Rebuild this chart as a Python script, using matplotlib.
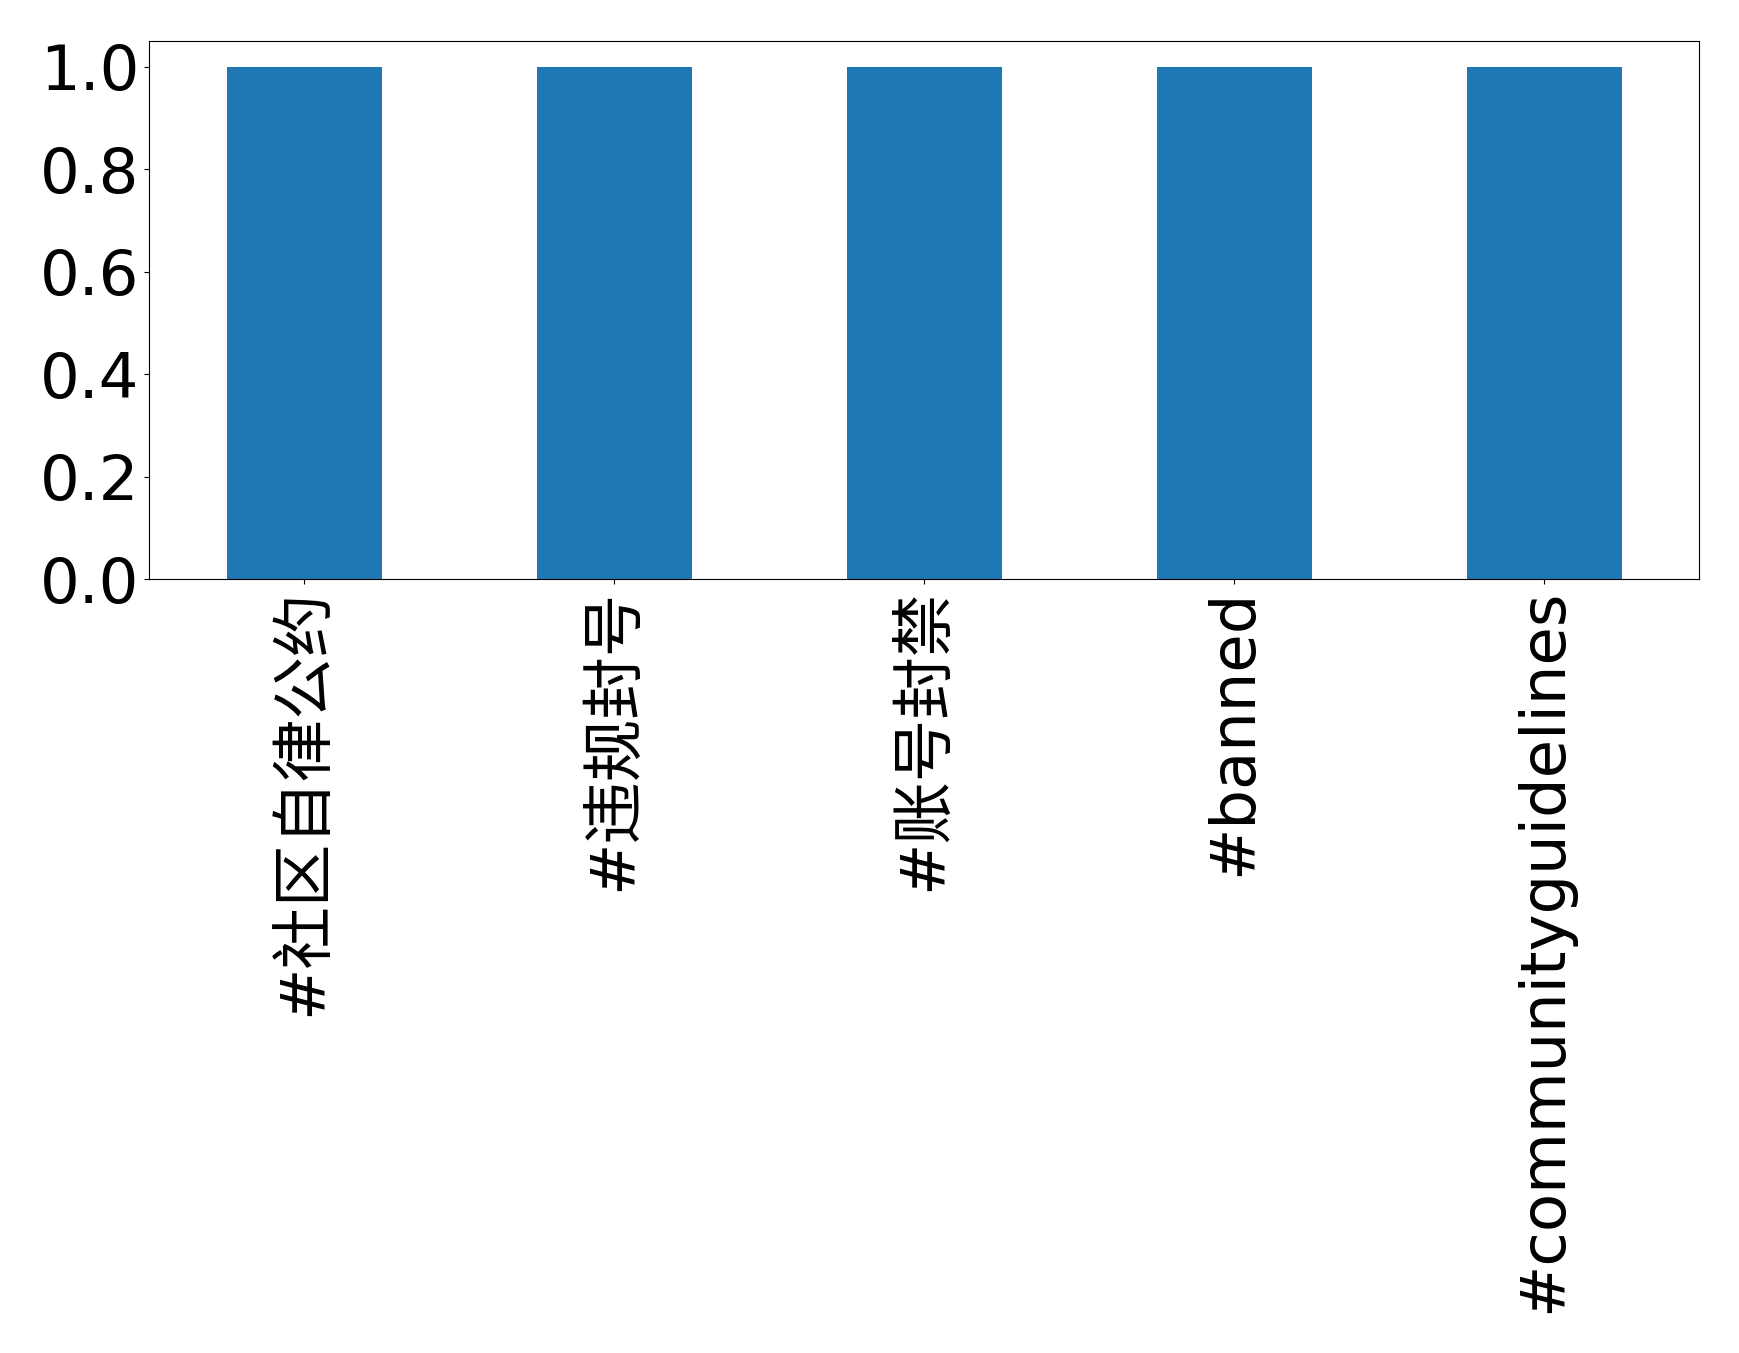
import matplotlib
matplotlib.use("Agg")
import matplotlib.pyplot as plt

categories = ["#社区自律公约", "#违规封号", "#账号封禁", "#banned", "#communityguidelines"]
counts = [1, 1, 1, 1, 1]

plt.rcParams['font.family'] = ['DejaVu Sans', 'Noto Sans CJK SC']

fig = plt.figure(figsize=(17.39, 13.53), dpi=100)
ax = fig.add_axes([149/1739, 1 - 579/1353, (1699-149)/1739, (579-41)/1353])
x = list(range(len(categories)))
ax.bar(x, counts, width=0.5, color='#1f77b4')
ax.set_xlim(-0.5, len(categories) - 0.5)
ax.set_ylim(0, 1.05)
ax.set_xticks(x)
ax.set_xticklabels(categories, rotation=90, fontsize=45)
ax.set_yticks([0.0, 0.2, 0.4, 0.6, 0.8, 1.0])
ax.set_yticklabels(["0.0", "0.2", "0.4", "0.6", "0.8", "1.0"], fontsize=45)
fig.savefig("out.png", dpi=100)
